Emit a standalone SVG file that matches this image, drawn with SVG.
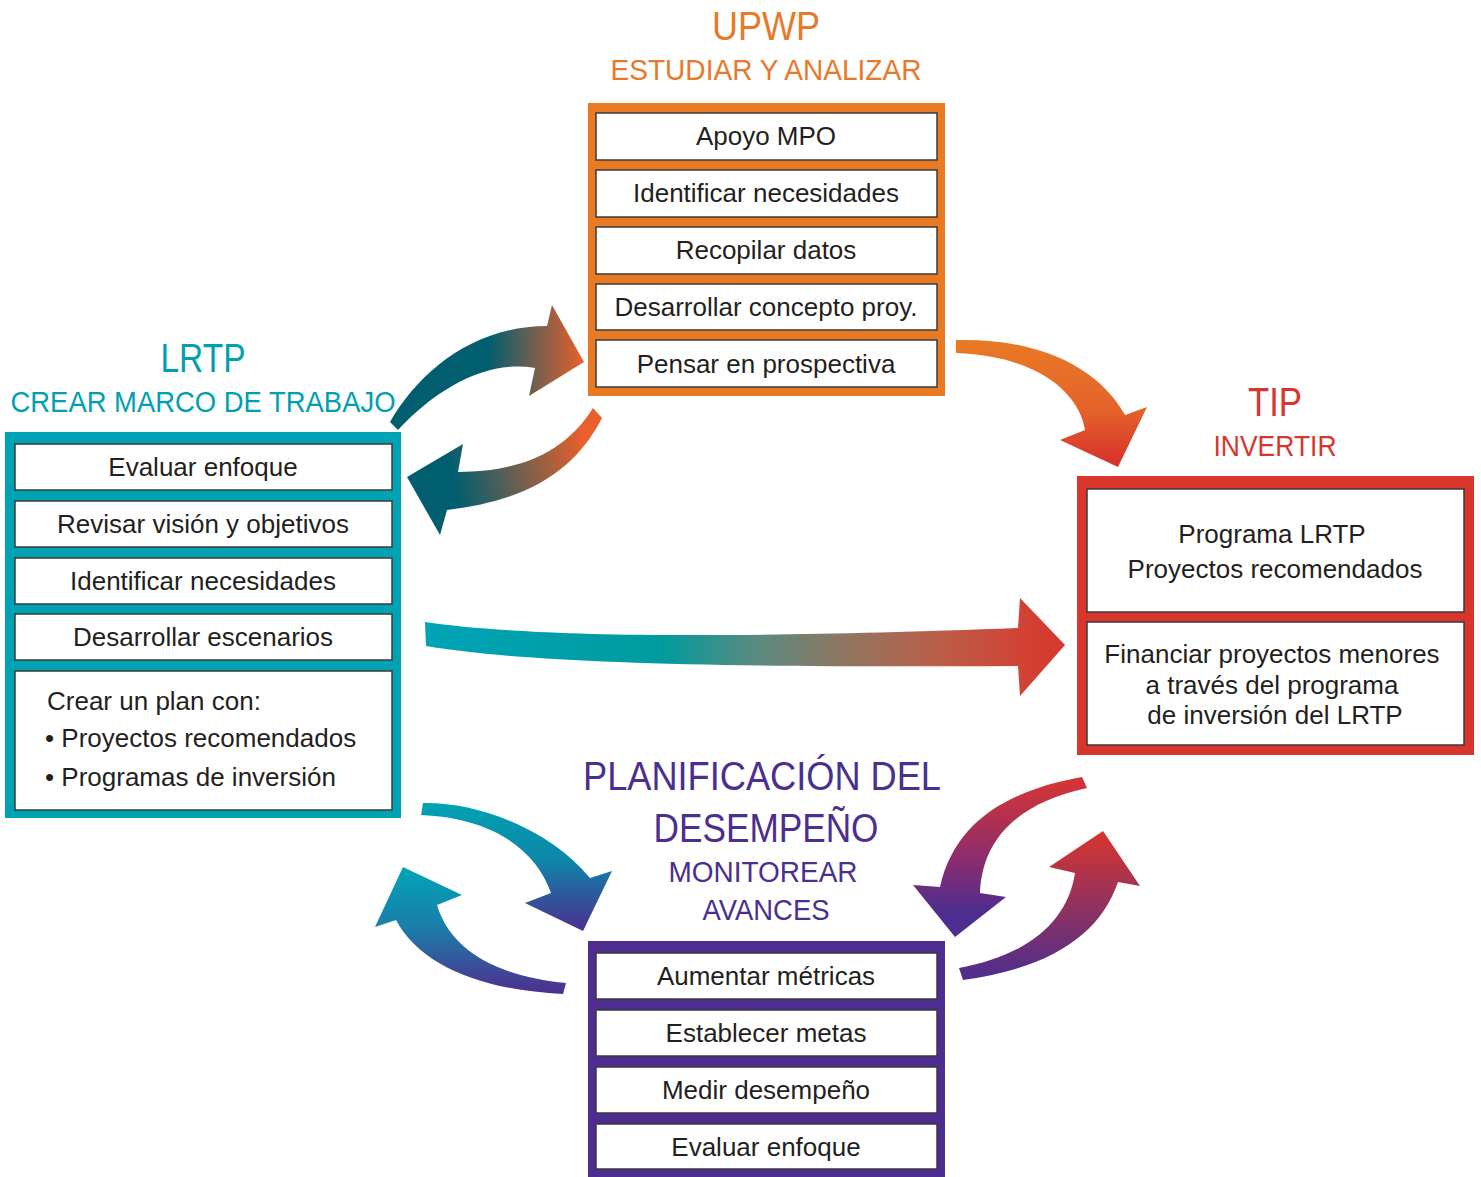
<svg xmlns="http://www.w3.org/2000/svg" width="1481" height="1177" viewBox="0 0 1481 1177">
<style>
.box{fill:#fff;stroke:#3a3a3a;stroke-width:1.5}
.t{font-family:"Liberation Sans",Arial,sans-serif;font-size:26px;fill:#231f20;text-anchor:middle}
.tl{font-family:"Liberation Sans",Arial,sans-serif;font-size:26px;fill:#231f20}
.h1{font-family:"Liberation Sans",Arial,sans-serif;font-size:40px;text-anchor:middle}
.h2{font-family:"Liberation Sans",Arial,sans-serif;font-size:30px;text-anchor:middle}
</style>
<defs>
<linearGradient id="g1" gradientUnits="userSpaceOnUse" x1="488" y1="360" x2="582" y2="360"><stop offset="0" stop-color="#015e6f"/><stop offset="1" stop-color="#e6602c"/></linearGradient>
<linearGradient id="g2" gradientUnits="userSpaceOnUse" x1="588" y1="460" x2="455" y2="490"><stop offset="0" stop-color="#e8602c"/><stop offset="1" stop-color="#015e6f"/></linearGradient>
<linearGradient id="g3" gradientUnits="userSpaceOnUse" x1="0" y1="340" x2="0" y2="467"><stop offset="0" stop-color="#e97b24"/><stop offset="0.55" stop-color="#e4622a"/><stop offset="1" stop-color="#d6302c"/></linearGradient>
<linearGradient id="g4" gradientUnits="userSpaceOnUse" x1="425" y1="0" x2="1065" y2="0"><stop offset="0" stop-color="#00a3b6"/><stop offset="0.37" stop-color="#009b9e"/><stop offset="0.52" stop-color="#5b8a80"/><stop offset="0.65" stop-color="#8d7762"/><stop offset="0.79" stop-color="#b8604a"/><stop offset="0.92" stop-color="#cf4536"/><stop offset="1" stop-color="#d8362e"/></linearGradient>
<linearGradient id="g5" gradientUnits="userSpaceOnUse" x1="0" y1="803" x2="0" y2="931"><stop offset="0" stop-color="#00a2b3"/><stop offset="0.45" stop-color="#0e86a8"/><stop offset="0.7" stop-color="#2b5c9e"/><stop offset="1" stop-color="#4c2f90"/></linearGradient>
<linearGradient id="g6" gradientUnits="userSpaceOnUse" x1="0" y1="867" x2="0" y2="994"><stop offset="0" stop-color="#00a6b6"/><stop offset="0.5" stop-color="#1e7aa8"/><stop offset="1" stop-color="#4f2d8f"/></linearGradient>
<linearGradient id="g7" gradientUnits="userSpaceOnUse" x1="0" y1="777" x2="0" y2="937"><stop offset="0" stop-color="#d83532"/><stop offset="0.55" stop-color="#862c72"/><stop offset="0.85" stop-color="#4b2e8f"/></linearGradient>
<linearGradient id="g8" gradientUnits="userSpaceOnUse" x1="0" y1="831" x2="0" y2="980"><stop offset="0" stop-color="#d8352d"/><stop offset="1" stop-color="#4b2e8f"/></linearGradient>
</defs>
<rect width="1481" height="1177" fill="#fff"/>

<g id="upwp">
<text class="h1" x="766" y="40" fill="#e8792a" textLength="108" lengthAdjust="spacingAndGlyphs">UPWP</text>
<text class="h2" x="766" y="80" fill="#e8792a" textLength="311" lengthAdjust="spacingAndGlyphs">ESTUDIAR Y ANALIZAR</text>
<rect x="588" y="103" width="357" height="293" fill="#e87a24"/>
<rect class="box" x="596" y="113" width="341" height="47"/>
<rect class="box" x="596" y="170" width="341" height="47"/>
<rect class="box" x="596" y="227" width="341" height="47"/>
<rect class="box" x="596" y="284" width="341" height="46"/>
<rect class="box" x="596" y="340" width="341" height="47"/>
<text class="t" x="766" y="145">Apoyo MPO</text>
<text class="t" x="766" y="202">Identificar necesidades</text>
<text class="t" x="766" y="259">Recopilar datos</text>
<text class="t" x="766" y="316">Desarrollar concepto proy.</text>
<text class="t" x="766" y="373">Pensar en prospectiva</text>
</g>

<g id="lrtp">
<text class="h1" x="203" y="372" fill="#00a0b0" textLength="85" lengthAdjust="spacingAndGlyphs">LRTP</text>
<text class="h2" x="203" y="412" fill="#00a0b0" textLength="385" lengthAdjust="spacingAndGlyphs">CREAR MARCO DE TRABAJO</text>
<rect x="5" y="432" width="396" height="386" fill="#00a3b4"/>
<rect class="box" x="15" y="444" width="377" height="46"/>
<rect class="box" x="15" y="501" width="377" height="46"/>
<rect class="box" x="15" y="558" width="377" height="46"/>
<rect class="box" x="15" y="614" width="377" height="46"/>
<rect class="box" x="15" y="671" width="377" height="139"/>
<text class="t" x="203" y="476">Evaluar enfoque</text>
<text class="t" x="203" y="533">Revisar visión y objetivos</text>
<text class="t" x="203" y="590">Identificar necesidades</text>
<text class="t" x="203" y="646">Desarrollar escenarios</text>
<text class="tl" x="47" y="710">Crear un plan con:</text>
<text class="tl" x="45" y="747">• Proyectos recomendados</text>
<text class="tl" x="45" y="786">• Programas de inversión</text>
</g>

<g id="tip">
<text class="h1" x="1275" y="416" fill="#d8352d" textLength="54" lengthAdjust="spacingAndGlyphs">TIP</text>
<text class="h2" x="1275" y="456" fill="#d8352d" textLength="123" lengthAdjust="spacingAndGlyphs">INVERTIR</text>
<rect x="1077" y="476" width="397" height="279" fill="#d8352d"/>
<rect class="box" x="1087" y="489" width="377" height="123"/>
<rect class="box" x="1087" y="622" width="377" height="123"/>
<text class="t" x="1272" y="543">Programa LRTP</text>
<text class="t" x="1275" y="578">Proyectos recomendados</text>
<text class="t" x="1272" y="663">Financiar proyectos menores</text>
<text class="t" x="1272" y="694">a través del programa</text>
<text class="t" x="1275" y="724">de inversión del LRTP</text>
</g>

<g id="desempeno">
<text class="h1" x="762" y="790" fill="#4a2f91" textLength="358" lengthAdjust="spacingAndGlyphs">PLANIFICACIÓN DEL</text>
<text class="h1" x="766" y="842" fill="#4a2f91" textLength="225" lengthAdjust="spacingAndGlyphs">DESEMPEÑO</text>
<text class="h2" x="763" y="882" fill="#4a2f91" textLength="189" lengthAdjust="spacingAndGlyphs">MONITOREAR</text>
<text class="h2" x="766" y="920" fill="#4a2f91" textLength="127" lengthAdjust="spacingAndGlyphs">AVANCES</text>
<rect x="588" y="941" width="357" height="236" fill="#4e2d91"/>
<rect class="box" x="596" y="953" width="341" height="46"/>
<rect class="box" x="596" y="1010" width="341" height="46"/>
<rect class="box" x="596" y="1067" width="341" height="46"/>
<rect class="box" x="596" y="1124" width="341" height="45"/>
<text class="t" x="766" y="985">Aumentar métricas</text>
<text class="t" x="766" y="1042">Establecer metas</text>
<text class="t" x="766" y="1099">Medir desempeño</text>
<text class="t" x="766" y="1156">Evaluar enfoque</text>
</g>

<g id="connectors">
<path fill="url(#g1)" d="M390,422 C420,370 475,326 547,326 L552,305 L584,362 L529,396 L535,368 C490,360 440,385 398,430 Z"/>
<path fill="url(#g2)" d="M593,408 C570,445 530,472 458,472 L463,444 L407,477 L440,535 L447,510 C530,500 575,470 602,418 Z"/>
<path fill="url(#g3)" d="M956,340 C1030,338 1095,362 1125,415 L1147,407 L1118,467 L1060,440 L1085,430 C1080,395 1040,356 956,353 Z"/>
<path fill="url(#g4)" d="M425,622 C520,636 700,640 1018,628 L1020,598 L1065,645 L1020,696 L1018,666 C700,668 520,662 426,646 Z"/>
<path fill="url(#g5)" d="M423,803 C480,802 550,830 590,878 L612,871 L583,931 L525,903 L551,893 C537,852 495,818 421,815 Z"/>
<path fill="url(#g6)" d="M566,983 C505,977 452,955 437,905 L462,895 L403,867 L375,927 L396,920 C420,965 480,990 563,994 Z"/>
<path fill="url(#g7)" d="M1082,777 C1010,790 955,820 940,887 L913,885 L955,937 L1006,897 L980,893 C982,845 1010,805 1087,788 Z"/>
<path fill="url(#g8)" d="M959,968 C1030,955 1068,920 1075,873 L1049,867 L1103,831 L1140,886 L1118,882 C1100,935 1050,968 963,980 Z"/>
</g>
</svg>
